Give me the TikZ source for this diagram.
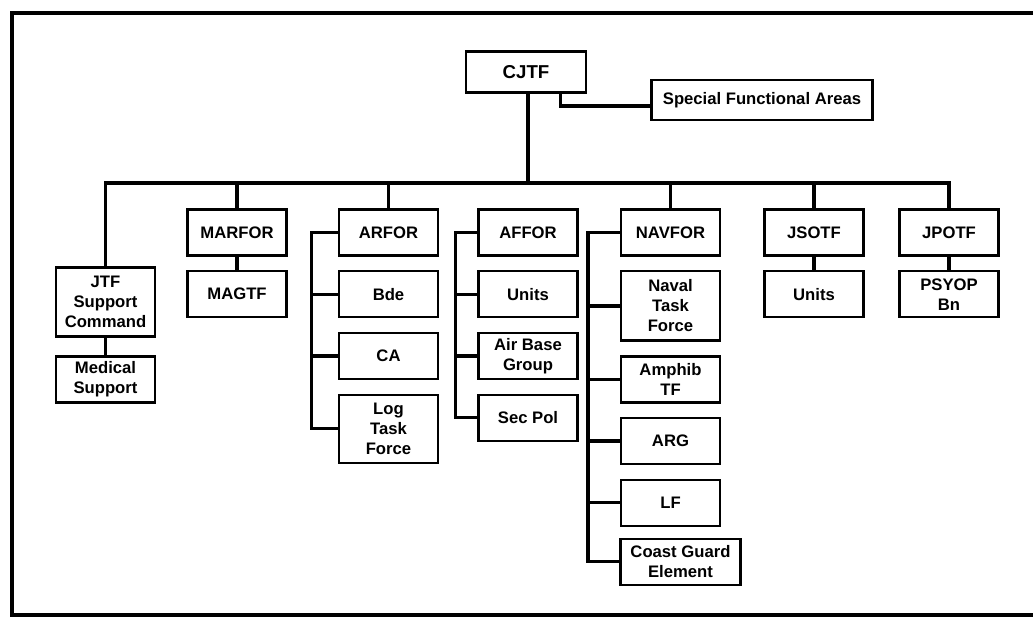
\documentclass[tikz,border=0pt]{standalone}
\usepackage{fontspec}
\setmainfont{Liberation Sans}
\usetikzlibrary{positioning}

\begin{document}
\begin{tikzpicture}[
  x=0.75pt, y=-0.75pt,
  font=\fontsize{12.5}{15}\selectfont\bfseries, node distance=10pt,
  box/.style={draw, line width=1.8pt, align=center, inner sep=3pt,
              minimum width=74pt, minimum height=34.5pt},
  tall/.style={box, minimum height=52pt},
  link/.style={line width=2.4pt}]
\useasboundingbox (0,0) rectangle (1033,617);
% frame
\draw[line width=2.5pt] (1033,13) -- (12,13) -- (12,615) -- (1033,615);
% top
\node[box, minimum width=90pt, minimum height=31pt,
      font=\fontsize{14}{16}\selectfont\bfseries] (cjtf) at (526,72) {CJTF};
\node[box, minimum width=166pt, minimum height=30pt] (sfa) at (762,100)
      {Special Functional Areas};
\coordinate (bus) at (0,183);
% components
\node[tall] (jtf) at (105.5,302) {JTF\\Support\\Command};
\node[box, below=13pt of jtf] (med) {Medical\\Support};
\node[box] (marfor) at (237,232.5) {MARFOR};
\node[box, below=of marfor] (magtf) {MAGTF};
\node[box] (arfor) at (388.5,232.5) {ARFOR};
\node[box, below=of arfor] (bde) {Bde};
\node[box, below=of bde] (ca) {CA};
\node[tall, minimum height=51pt, below=of ca] (log) {Log\\Task\\Force};
\node[box] (affor) at (528,232.5) {AFFOR};
\node[box, below=of affor] (aunits) {Units};
\node[box, below=of aunits] (abg) {Air Base\\Group};
\node[box, below=of abg] (secpol) {Sec Pol};
\node[box] (navfor) at (670.5,232.5) {NAVFOR};
\node[tall, below=of navfor] (ntf) {Naval\\Task\\Force};
\node[box, below=of ntf] (amphib) {Amphib\\TF};
\node[box, below=of amphib] (arg) {ARG};
\node[box, below=of arg] (lf) {LF};
\node[box, below=8pt of lf, xshift=7.5pt, minimum width=90pt] (cg)
      {Coast Guard\\Element};
\node[box] (jsotf) at (814,232.5) {JSOTF};
\node[box, below=of jsotf] (sunits) {Units};
\node[box] (jpotf) at (949,232.5) {JPOTF};
\node[box, below=of jpotf] (psyop) {PSYOP\\Bn};
% connectors
\draw[link] ([xshift=1.5pt]cjtf.south) -- ([xshift=1.5pt]cjtf.south |- bus);
\draw[link] ([xshift=26pt]cjtf.south) |- ([yshift=-4.5pt]sfa.west);
\draw[link] (jtf.north) |- (bus -| jpotf.north) -- (jpotf.north);
\foreach \h in {marfor,arfor,navfor,jsotf}
  \draw[link] (\h.north) -- (\h.north |- bus);
\draw[link] (jtf) -- (med);
\draw[link] (marfor) -- (magtf);
\draw[link] (jsotf) -- (sunits);
\draw[link] (jpotf) -- (psyop);
\draw[link] (arfor.west) -- ++(-20pt,0) coordinate (sa) |- (log.west);
\foreach \c in {bde,ca}
  \draw[link] (\c.west) -- (\c.west -| sa);
\draw[link] (affor.west) -- ++(-16.5pt,0) coordinate (sb) |- (secpol.west);
\foreach \c in {aunits,abg}
  \draw[link] (\c.west) -- (\c.west -| sb);
\draw[link] (navfor.west) -- ++(-24pt,0) coordinate (sn) |- (cg.west);
\foreach \c in {ntf,amphib,arg,lf}
  \draw[link] (\c.west) -- (\c.west -| sn);
\end{tikzpicture}
\end{document}
